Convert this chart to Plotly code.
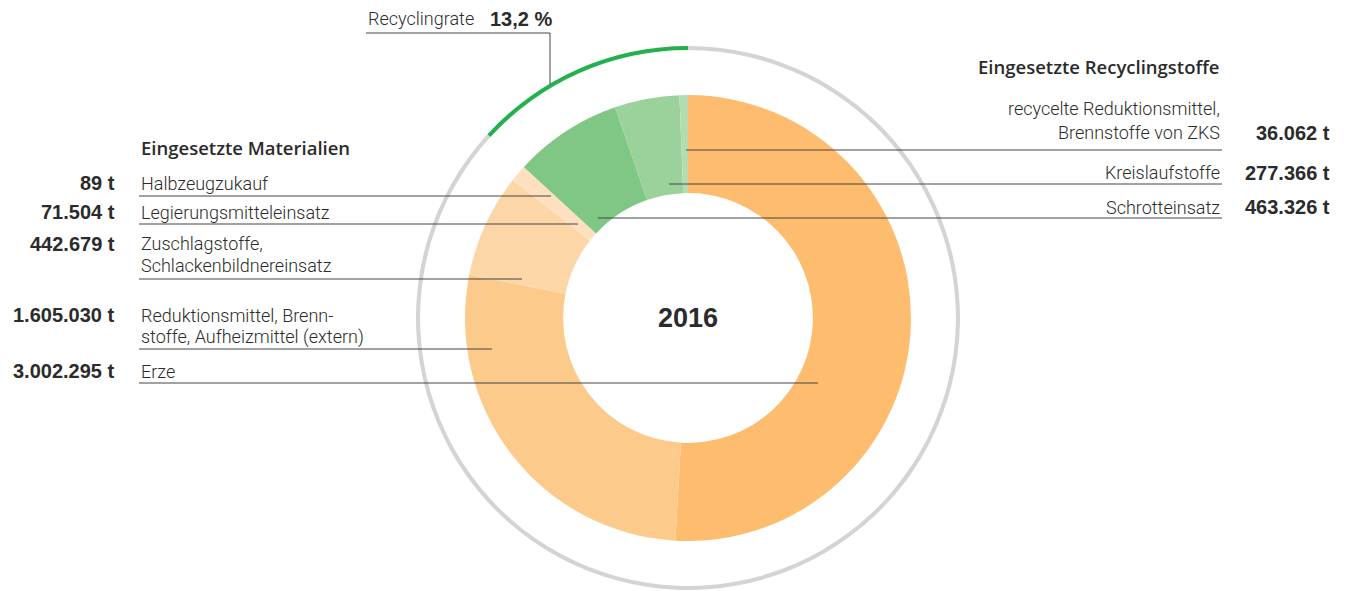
import plotly.graph_objects as go

# %% data
materials = [
    "Erze",
    "Reduktionsmittel, Brennstoffe, Aufheizmittel (extern)",
    "Zuschlagstoffe, Schlackenbildnereinsatz",
    "Legierungsmitteleinsatz",
    "Halbzeugzukauf",
    "Schrotteinsatz",
    "Kreislaufstoffe",
    "recycelte Reduktionsmittel, Brennstoffe von ZKS",
]
tonnes = [3002295, 1605030, 442679, 71504, 89, 463326, 277366, 36062]
slice_colors = ["#fdbc6e", "#fcca8b", "#fcd6a6", "#fde0bf", "#fde6cc",
                "#80c685", "#9bd19b", "#b4dcb2"]
recycling_rate = 13.2
year = "2016"

# page body has an 8px margin, so the figure starts at (8, 8) in the window
OFF = 8
W, H = 1350 - OFF, 591 - OFF
CX, CY = 688, 318


def px(x):
    return (x - OFF) / W


def py(y):
    return 1 - (y - OFF) / H


def dom(r):
    return dict(x=[px(CX - r), px(CX + r)], y=[py(CY + r), py(CY - r)])


fig = go.Figure()

# outer ring showing the recycling rate (green part ends at 12 o'clock)
fig.add_trace(go.Pie(
    values=[100 - recycling_rate, recycling_rate],
    marker=dict(colors=["#d4d4d4", "#22b14c"], line=dict(width=0)),
    hole=0.985, sort=False, direction="clockwise", rotation=0,
    textinfo="none", hoverinfo="skip", domain=dom(272),
))

# main donut
fig.add_trace(go.Pie(
    labels=materials, values=tonnes,
    marker=dict(colors=slice_colors, line=dict(width=0)),
    hole=0.56, sort=False, direction="clockwise", rotation=0,
    textinfo="none", hoverinfo="label+value", domain=dom(223),
))

TXT = "#2b2b2b"
LINE = "#444444"
LIGHT = dict(family="Roboto", size=18, color=TXT, weight=300)
BOLD = dict(family="Liberation Sans", size=20, color=TXT, weight="bold")
HEAD = dict(family="Open Sans", size=18.5, color=TXT, weight=600)


def fmt(v):
    return f"{v:,}".replace(",", ".") + " t"


annotations = []


def txt(x, y, s, font, anchor="left"):
    annotations.append(dict(x=px(x), y=py(y), xref="paper", yref="paper",
                            text=s, showarrow=False, font=font,
                            xanchor=anchor, yanchor="middle"))


shapes = []


def seg(x0, y0, x1, y1, color=LINE):
    shapes.append(dict(type="line", xref="paper", yref="paper",
                       x0=px(x0), y0=py(y0), x1=px(x1), y1=py(y1),
                       line=dict(color=color, width=1)))


# left block
txt(139, 147, "Eingesetzte Materialien", HEAD)
left_rows = [
    (4, ["Halbzeugzukauf"], 183, 196, 551),
    (3, ["Legierungsmitteleinsatz"], 212, 224, 578),
    (2, ["Zuschlagstoffe,", "Schlackenbildnereinsatz"], 244, 279, 522),
    (1, ["Reduktionsmittel, Brenn-", "stoffe, Aufheizmittel (extern)"], 315, 349, 492),
    (0, ["Erze"], 371, 383, 818),
]
for i, lines, y, ly, lx in left_rows:
    txt(117, y, fmt(tonnes[i]), BOLD, "right")
    for k, s in enumerate(lines):
        txt(139, y + 22 * k, s, LIGHT)
    seg(139, ly, lx, ly)

# right block
txt(1222, 67, "Eingesetzte Recyclingstoffe", HEAD, "right")
right_rows = [
    (7, ["recycelte Reduktionsmittel,", "Brennstoffe von ZKS"], 108, 150, 686),
    (6, ["Kreislaufstoffe"], 173, 184, 669),
    (5, ["Schrotteinsatz"], 207, 218, 598),
]
for i, lines, y, ly, lx in right_rows:
    for k, s in enumerate(lines):
        txt(1222, y + 25 * k, s, LIGHT, "right")
    txt(1332, y + 25 * (len(lines) - 1), fmt(tonnes[i]), BOLD, "right")
    seg(lx, ly, 1222, ly)

# recycling rate label
txt(366, 19, "Recyclingrate", LIGHT)
txt(488, 19, f"{recycling_rate:.1f} %".replace(".", ","), BOLD)
seg(366, 33, 550, 33)
seg(550, 33, 550, 84)

# centre year
txt(CX, CY, year, dict(family="Liberation Sans", size=27, color=TXT, weight="bold"), "center")

fig.update_layout(
    width=W, height=H,
    margin=dict(l=0, r=0, t=0, b=0),
    paper_bgcolor="white", plot_bgcolor="white",
    showlegend=False,
    annotations=annotations,
    shapes=shapes,
)

fig.write_html("out.html")
